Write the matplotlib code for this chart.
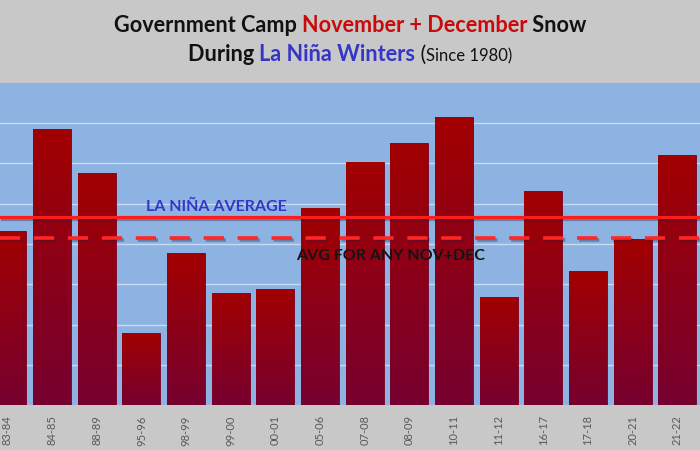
import numpy as np
import matplotlib
matplotlib.use('Agg')
from matplotlib import pyplot
from matplotlib import patheffects
from matplotlib.colors import LinearSegmentedColormap
from matplotlib.offsetbox import TextArea, HPacker, AnchoredOffsetbox

seasons = ['83-84', '84-85', '88-89', '95-96', '98-99', '99-00', '00-01', '05-06',
           '07-08', '08-09', '10-11', '11-12', '16-17', '17-18', '20-21', '21-22']
snow = [43.3, 68.6, 57.7, 18.0, 37.8, 27.9, 28.9, 49.0,
        60.4, 65.1, 71.6, 26.9, 53.2, 33.4, 41.3, 62.2]
nina_avg = 46.8
all_avg = 41.6

BG = '#c8c8c8'
FONT = 'Lato'


def title_line(fig, parts, y):
    areas = [TextArea(t, textprops=dict(color=c, fontsize=s, fontweight=w, family=FONT))
             for t, c, s, w in parts]
    box = HPacker(children=areas, align='baseline', pad=0, sep=0)
    anchored = AnchoredOffsetbox(loc='center', child=box, bbox_to_anchor=(0.5, y),
                                 bbox_transform=fig.transFigure, frameon=False, pad=0, borderpad=0)
    fig.add_artist(anchored)


fig = pyplot.figure(figsize=(7, 4.5), dpi=100, facecolor=BG)
ax = fig.add_axes([0, 0.099, 1, 0.717])
ax.set_facecolor('#8db3e2')

x = np.arange(len(seasons))
bars = ax.bar(x, snow, width=0.85, color='#8f0018', edgecolor='#7c0022', linewidth=0.6, zorder=3)

# vertical gradient inside every bar
cmap = LinearSegmentedColormap.from_list('bar', ['#76002f', '#8c0018', '#a20000'])
grad = np.linspace(0, 1, 256).reshape(-1, 1)
for bar in bars:
    x0, w, h = bar.get_x(), bar.get_width(), bar.get_height()
    im = ax.imshow(grad, cmap=cmap, origin='lower', extent=[x0, x0 + w, 0, h],
                   aspect='auto', zorder=3.1)
    im.set_clip_path(bar)

shadow = [patheffects.SimpleLineShadow(offset=(1.5, -2), shadow_color='#202040', alpha=0.35),
          patheffects.Normal()]
ax.axhline(nina_avg, color='#ff1c1c', lw=2.3, zorder=5, path_effects=shadow)
ax.axhline(all_avg, color='#ff2626', lw=2.6, ls=(0, (5.6, 3.8)), zorder=5, path_effects=shadow)

ax.text(4.67, 49.3, 'LA NIÑA AVERAGE', color='#3535c8', fontsize=11.5, fontweight='bold',
        ha='center', va='center', family=FONT, zorder=6)
ax.text(8.57, 37.1, 'AVG FOR ANY NOV+DEC', color='#141414', fontsize=11.5, fontweight='bold',
        ha='center', va='center', family=FONT, zorder=6)

ax.set_xlim(-0.166, 15.51)
ax.set_ylim(0, 80)
ax.set_yticks(range(10, 80, 10))
ax.set_yticklabels([])
ax.grid(axis='y', color='#c8daf2', lw=1, zorder=1)
ax.set_axisbelow(True)
ax.set_xticks(x)
ax.set_xticklabels(seasons, rotation=90, fontsize=8, color='#595959', family=FONT)
ax.tick_params(length=0, pad=7)
for s in ax.spines.values():
    s.set_visible(False)

title_line(fig, [('Government Camp ', '#111111', 15.6, 'bold'),
                 ('November + December', '#c80a0a', 15.6, 'bold'),
                 (' Snow', '#111111', 15.6, 'bold')], 0.943)
title_line(fig, [('During ', '#111111', 15.6, 'bold'),
                 ('La Niña Winters', '#3535c8', 15.6, 'bold'),
                 (' (', '#111111', 15.6, 'normal'),
                 ('Since 1980)', '#111111', 12, 'normal')], 0.879)

fig.savefig('out.png', dpi=100, facecolor=BG)
